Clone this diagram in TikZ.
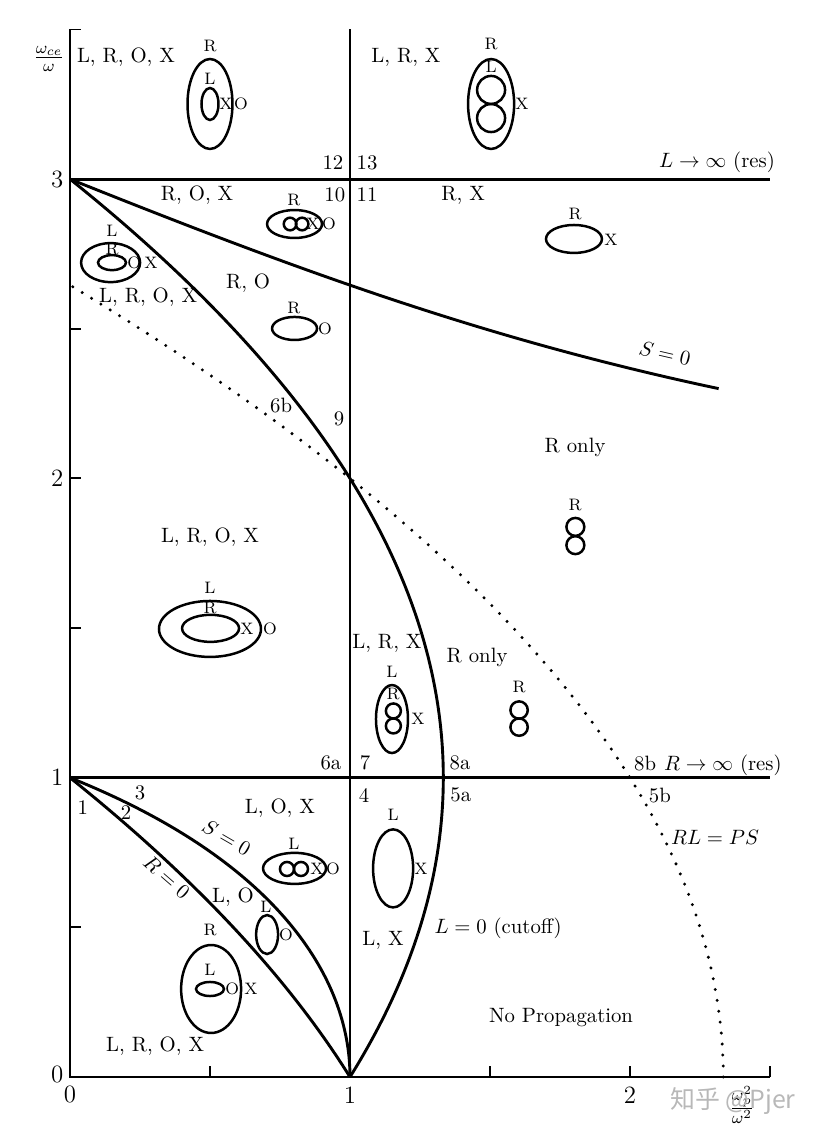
\documentclass[tikz,border=0pt]{standalone}
\usepackage{fontspec}
\newfontfamily\cjkfont{Noto Sans CJK SC}
\usepackage{tikz}
\tikzset{
  curve/.style={line width=1.4pt, line join=round},
  axisline/.style={line width=0.9pt},
  dotline/.style={line width=1.6pt, line cap=round, dash pattern=on 0pt off 5.3pt},
  wavesurf/.style={line width=1.2pt},
  region/.style={font=\normalsize, inner sep=1pt},
  wavetag/.style={font=\footnotesize, inner sep=0.5pt},
  axnum/.style={font=\large, inner sep=1pt},
  wmark/.style={font=\cjkfont\fontsize{12}{14}\selectfont, text=black!28}
}

\begin{document}
\begin{tikzpicture}[x=4.743cm,y=5.070cm]
\useasboundingbox (-0.25,-0.2005) rectangle (2.6714,3.5985);

\draw[axisline] (0,3.5) -- (0,0) -- (2.5,0);
\foreach \v in {0.5,1.5,2,2.5,3.5} \draw[axisline] (0,\v) -- ++(0.039,0);
\foreach \u in {0.5,1.5,2,2.5} \draw[axisline] (\u,0) -- ++(0,0.037);

\draw[curve] (0,1) -- (2.5,1);
\draw[curve] (0,3) -- (2.5,3);
\draw[curve] (1,0) -- (1,3.5);

\draw[curve] plot[domain=0:3, samples=120, smooth, variable=\t] ({1+\t*(2-\t)/3},\t);
\draw[curve] plot[domain=0:1, samples=60, smooth, variable=\t] ({(1-\t)*(3+\t)/3},\t);
\draw[curve] plot[domain=0:1, samples=60, smooth, variable=\t] ({((3-\t*\t)*(3-\t*\t)-4*\t*\t)/(3*(3-\t*\t))},\t);
\draw[curve] plot[domain=2.3:3, samples=60, smooth, variable=\t] ({((3-\t*\t)*(3-\t*\t)-4*\t*\t)/(3*(3-\t*\t))},\t);
\draw[dotline] plot[domain=0:2.6458, samples=120, smooth, variable=\t] ({(7-\t*\t)/3},\t);

\node[axnum] (y0) at (-0.046,0.007) {0};
\node[axnum] (y1) at (-0.046,1) {1};
\node[axnum] (y2) at (-0.046,2) {2};
\node[axnum] (y3) at (-0.046,3) {3};
\node[axnum] (x0) at (0,-0.06) {0};
\node[axnum] (x1) at (1,-0.06) {1};
\node[axnum] (x2) at (2,-0.06) {2};
\node[axnum] (ylab) at (-0.075,3.401) {$\frac{\omega_{ce}}{\omega}$};
\node[axnum] (xlab) at (2.4,-0.094) {$\frac{\omega_{p}^{2}}{\omega^{2}}$};

\node[region] (topleft) at (0.2,3.408) {L, R, O, X};
\node[region] (topright) at (1.2,3.408) {L, R, X};
\node[region] (n12) at (0.939,3.054) {12};
\node[region] (n13) at (1.061,3.054) {13};
\node[region] (n10) at (0.946,2.947) {10};
\node[region] (n11) at (1.061,2.947) {11};
\node[region] (rox) at (0.454,2.947) {R, O, X};
\node[region] (rx) at (1.404,2.947) {R, X};
\node[region] (lres) at (2.311,3.057) {$L\rightarrow\infty$ (res)};
\node[region] (ro) at (0.636,2.653) {R, O};
\node[region] (lrox2) at (0.279,2.606) {L, R, O, X};
\node[region, rotate=-13] (supper) at (2.125,2.418) {$S=0$};
\node[region] (n6b) at (0.754,2.242) {6b};
\node[region] (n9) at (0.961,2.198) {9};
\node[region] (ronly1) at (1.804,2.105) {R only};
\node[region] (lrox3) at (0.5,1.804) {L, R, O, X};
\node[region] (lrx) at (1.132,1.450) {L, R, X};
\node[region] (ronly2) at (1.454,1.403) {R only};
\node[region] (n6a) at (0.932,1.049) {6a};
\node[region] (n7) at (1.054,1.049) {7};
\node[region] (n8a) at (1.393,1.049) {8a};
\node[region] (n8b) at (2.054,1.049) {8b};
\node[region] (rres) at (2.332,1.042) {$R\rightarrow\infty$ (res)};
\node[region] (n4) at (1.05,0.942) {4};
\node[region] (n5a) at (1.396,0.942) {5a};
\node[region] (n5b) at (2.107,0.942) {5b};
\node[region] (n1) at (0.046,0.899) {1};
\node[region] (n2) at (0.2,0.885) {2};
\node[region] (n3) at (0.25,0.949) {3};
\node[region] (lox) at (0.75,0.899) {L, O, X};
\node[region, rotate=-30] (slower) at (0.56,0.8) {$S=0$};
\node[region, rotate=-41] (rzero) at (0.346,0.668) {$R=0$};
\node[region] (lo) at (0.582,0.601) {L, O};
\node[region] (rlps) at (2.304,0.799) {$RL=PS$};
\node[region] (lx) at (1.118,0.458) {L, X};
\node[region] (lzero) at (1.529,0.498) {$L=0$ (cutoff)};
\node[region] (noprop) at (1.754,0.200) {No Propagation};
\node[region] (lrox4) at (0.304,0.104) {L, R, O, X};

\draw[wavesurf] (0.5,3.251) ellipse [x radius=0.381cm, y radius=0.762cm];
\draw[wavesurf] (0.5,3.251) ellipse [x radius=0.144cm, y radius=0.271cm];
\node[wavetag] (aR) at (0.5,3.445) {R};
\node[wavetag] (aL) at (0.5,3.334) {L};
\node[wavetag] (aX) at (0.557,3.251) {X};
\node[wavetag] (aO) at (0.611,3.251) {O};

\draw[wavesurf] (1.504,3.251) ellipse [x radius=0.39cm, y radius=0.762cm];
\draw[wavesurf] (1.504,3.298) circle [radius=0.237cm];
\draw[wavesurf] (1.504,3.204) circle [radius=0.237cm];
\node[wavetag] (bR) at (1.504,3.451) {R};
\node[wavetag] (bL) at (1.504,3.375) {L};
\node[wavetag] (bX) at (1.614,3.251) {X};

\draw[wavesurf] (0.802,2.850) ellipse [x radius=0.466cm, y radius=0.237cm];
\draw[wavesurf] (0.786,2.850) circle [radius=0.107cm];
\draw[wavesurf] (0.829,2.850) circle [radius=0.107cm];
\node[wavetag] (cR) at (0.8,2.930) {R};
\node[wavetag] (cX) at (0.868,2.850) {X};
\node[wavetag] (cO) at (0.925,2.850) {O};

\draw[wavesurf] (0.145,2.721) ellipse [x radius=0.5cm, y radius=0.33cm];
\draw[wavesurf] (0.15,2.721) ellipse [x radius=0.237cm, y radius=0.127cm];
\node[wavetag] (dL) at (0.15,2.827) {L};
\node[wavetag] (dR) at (0.15,2.767) {R};
\node[wavetag] (dO) at (0.229,2.720) {O};
\node[wavetag] (dX) at (0.289,2.720) {X};

\draw[wavesurf] (0.802,2.501) ellipse [x radius=0.381cm, y radius=0.195cm];
\node[wavetag] (eR) at (0.8,2.569) {R};
\node[wavetag] (eO) at (0.911,2.499) {O};

\draw[wavesurf] (1.8,2.8) ellipse [x radius=0.474cm, y radius=0.237cm];
\node[wavetag] (fR) at (1.804,2.883) {R};
\node[wavetag] (fX) at (1.932,2.797) {X};

\draw[wavesurf] (1.805,1.838) circle [radius=0.152cm];
\draw[wavesurf] (1.805,1.777) circle [radius=0.152cm];
\node[wavetag] (gR) at (1.804,1.911) {R};

\draw[wavesurf] (1.604,1.226) circle [radius=0.147cm];
\draw[wavesurf] (1.604,1.169) circle [radius=0.147cm];
\node[wavetag] (hR) at (1.604,1.304) {R};

\draw[wavesurf] (1.15,1.196) ellipse [x radius=0.271cm, y radius=0.576cm];
\draw[wavesurf] (1.155,1.223) circle [radius=0.127cm];
\draw[wavesurf] (1.155,1.173) circle [radius=0.127cm];
\node[wavetag] (iL) at (1.15,1.353) {L};
\node[wavetag] (iR) at (1.154,1.280) {R};
\node[wavetag] (iX) at (1.243,1.196) {X};

\draw[wavesurf] (0.5,1.497) ellipse [x radius=0.864cm, y radius=0.474cm];
\draw[wavesurf] (0.502,1.499) ellipse [x radius=0.483cm, y radius=0.229cm];
\node[wavetag] (jL) at (0.5,1.634) {L};
\node[wavetag] (jR) at (0.5,1.567) {R};
\node[wavetag] (jX) at (0.632,1.497) {X};
\node[wavetag] (jO) at (0.714,1.497) {O};

\draw[wavesurf] (0.802,0.697) ellipse [x radius=0.534cm, y radius=0.263cm];
\draw[wavesurf] (0.775,0.695) circle [radius=0.119cm];
\draw[wavesurf] (0.825,0.695) circle [radius=0.119cm];
\node[wavetag] (kL) at (0.8,0.778) {L};
\node[wavetag] (kX) at (0.882,0.695) {X};
\node[wavetag] (kO) at (0.939,0.695) {O};

\draw[wavesurf] (0.704,0.476) ellipse [x radius=0.186cm, y radius=0.330cm];
\node[wavetag] (lL) at (0.7,0.568) {L};
\node[wavetag] (lO) at (0.771,0.474) {O};

\draw[wavesurf] (0.504,0.294) ellipse [x radius=0.508cm, y radius=0.745cm];
\draw[wavesurf] (0.5,0.294) ellipse [x radius=0.237cm, y radius=0.119cm];
\node[wavetag] (mR) at (0.5,0.491) {R};
\node[wavetag] (mL) at (0.5,0.357) {L};
\node[wavetag] (mO) at (0.579,0.294) {O};
\node[wavetag] (mX) at (0.646,0.294) {X};

\draw[wavesurf] (1.154,0.697) ellipse [x radius=0.339cm, y radius=0.661cm];
\node[wavetag] (nL) at (1.154,0.875) {L};
\node[wavetag] (nX) at (1.254,0.695) {X};

\node[wmark] (wm) at (2.368,-0.08) {知乎 @Pjer};
\end{tikzpicture}
\end{document}
